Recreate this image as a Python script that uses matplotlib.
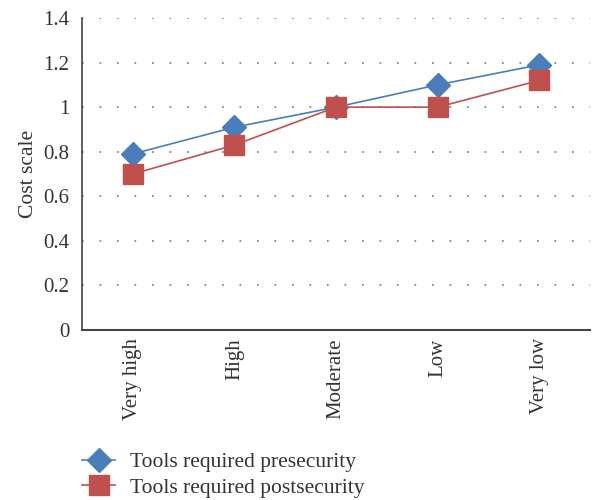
import matplotlib
matplotlib.use("Agg")
import matplotlib.pyplot as plt
from matplotlib.ticker import FixedLocator, FuncFormatter

categories = ["Very high", "High", "Moderate", "Low", "Very low"]
pre_security = [0.79, 0.91, 1.0, 1.1, 1.19]
post_security = [0.70, 0.83, 1.0, 1.0, 1.12]
y_ticks = [0, 0.2, 0.4, 0.6, 0.8, 1.0, 1.2, 1.4]

plt.rcParams["font.family"] = ["Liberation Serif", "DejaVu Serif"]

fig = plt.figure(figsize=(5.98, 5.0), dpi=100)
ax = fig.add_axes([0.137, 0.34, 0.85, 0.624])

x = list(range(len(categories)))
ax.plot(x, pre_security, color="#4a7ebb", lw=1.2, marker="D", ms=12.5,
        mec="#4a7ebb", mfc="#4a7ebb", label="Tools required presecurity", zorder=3)
ax.plot(x, post_security, color="#c0504d", lw=1.2, marker="s", ms=14.5,
        mec="#c0504d", mfc="#c0504d", label="Tools required postsecurity", zorder=4)

ax.set_xlim(-0.5, len(categories) - 0.5)
ax.set_ylim(0, 1.4)
ax.yaxis.set_major_locator(FixedLocator(y_ticks))
ax.yaxis.set_major_formatter(FuncFormatter(lambda v, p: f"{v:g}"))
ax.set_xticks(x)
ax.set_xticklabels(categories, rotation=90, fontsize=15, color="#333333")
ax.tick_params(axis="y", length=0, pad=9, labelsize=15, labelcolor="#333333")
ax.tick_params(axis="x", length=0, pad=6)

for v in y_ticks[1:]:
    ax.axhline(v, color="#777777", lw=1.2, linestyle=(0, (1, 9.5)), zorder=1)

for side in ("top", "right"):
    ax.spines[side].set_visible(False)
ax.spines["left"].set_color("#444444")
ax.spines["bottom"].set_color("#444444")
ax.spines["left"].set_linewidth(1.2)
ax.spines["bottom"].set_linewidth(1.5)

ax.set_ylabel("Cost scale", fontsize=15.5, color="#333333", labelpad=4)

fig.legend(loc="lower left", bbox_to_anchor=(0.105, -0.034), frameon=False,
           fontsize=15.5, handlelength=1.54, labelspacing=0.25,
           handletextpad=0.7, labelcolor="#333333")

fig.savefig("out.png", dpi=100)
